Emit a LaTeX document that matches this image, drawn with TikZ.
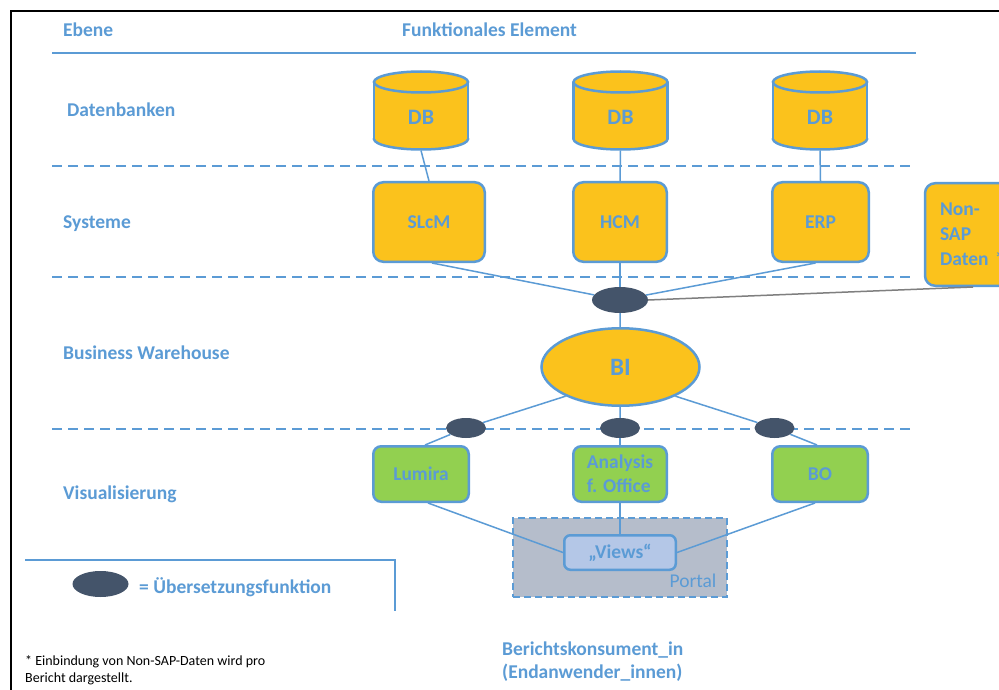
\documentclass[tikz,border=0pt]{standalone}
\usepackage{fontspec}
\setmainfont{Carlito}
\usetikzlibrary{shapes.geometric}
\definecolor{blueA}{HTML}{5B9BD5}
\definecolor{goldA}{HTML}{FBC21C}
\definecolor{greenA}{HTML}{92D050}
\definecolor{darkA}{HTML}{44546A}
\definecolor{portalA}{HTML}{B5BDCB}
\definecolor{viewsA}{HTML}{B4C7E7}
\definecolor{grayA}{HTML}{7F7F7F}
\tikzset{
  bigfont/.style={font=\bfseries\fontsize{19.5}{24}\selectfont},
  lbl/.style={bigfont, text=blueA, anchor=base west, inner sep=0pt},
  sysbox/.style={rectangle, draw=blueA, line width=2.5pt, fill=goldA, rounded corners=10pt,
     text=blueA, bigfont, minimum height=79.5pt, inner sep=0pt},
  visbox/.style={rectangle, draw=blueA, line width=2.5pt, fill=greenA, rounded corners=8pt,
     text=blueA, bigfont, minimum height=55.5pt, inner sep=0pt, align=left},
  junc/.style={ellipse, fill=darkA, draw=none, inner sep=0pt},
  conn/.style={draw=blueA, line width=1.5pt},
  sepline/.style={draw=blueA, line width=2pt, dash pattern=on 10pt off 6pt},
  cylbody/.style={fill=goldA},
  cylline/.style={draw=blueA, line width=2.5pt},
}
\begin{document}
\begin{tikzpicture}[x=1pt,y=-1pt]
\useasboundingbox (0,0) rectangle (999,690);
\clip (0,0) rectangle (999,690);
\fill[white] (0,0) rectangle (999,690);

% frame
\draw[black, line width=2.5pt] (11,690) -- (11,11) -- (999,11);

% header
\node[lbl] (hEbene) at (63,36.5) {Ebene};
\node[lbl] (hFunk) at (402,36.5) {Funktionales Element};
\draw[blueA, line width=2pt] (52,53) -- (916,53);

% separators
\foreach \yy in {166,277,429} {\draw[sepline] (52,\yy) -- (916,\yy);}

% left labels
\node[lbl] (lDaten) at (67,117) {Datenbanken};
\node[lbl] (lSys) at (63,228.5) {Systeme};
\node[lbl] (lBW) at (63,359.5) {Business Warehouse};
\node[lbl] (lVis) at (63,499.5) {Visualisierung};

% cylinders
\foreach \cx/\n in {421/1,620.5/2,820/3} {
  \filldraw[fill=goldA, cylline] (\cx,139) ellipse [x radius=47, y radius=10.5];
  \fill[cylbody] (\cx-47,82) rectangle (\cx+47,139);
  \draw[cylline] (\cx-47,82) -- (\cx-47,139) (\cx+47,82) -- (\cx+47,139);
  \filldraw[fill=goldA, cylline] (\cx,82) ellipse [x radius=47, y radius=10.5];
  \node[text=blueA, font=\bfseries\fontsize{22}{26}\selectfont, inner sep=0pt] (db\n) at (\cx,117) {DB};
  \coordinate (db\n b) at (\cx,150.5);
}

% systems
\node[sysbox, minimum width=111.5pt] (slcm) at (429,222) {SLcM};
\node[sysbox, minimum width=93.5pt] (hcm) at (620,222) {HCM};
\node[sysbox, minimum width=96.5pt] (erp) at (820.5,222) {ERP};
\node[sysbox, minimum height=102.5pt, text width=66pt, inner xsep=15pt, align=left,
      font=\bfseries\fontsize{19.5}{25}\selectfont] (nonsap) at (973,234.5) {Non-\\SAP\\Daten *};

% junctions
\node[junc, minimum width=56pt, minimum height=26pt] (jtop) at (620,300) {};
\node[junc, minimum width=40pt, minimum height=20pt] (jl) at (466,428) {};
\node[junc, minimum width=40pt, minimum height=20pt] (jm) at (620,428) {};
\node[junc, minimum width=40pt, minimum height=20pt] (jr) at (774.5,428) {};

% BI
\node[ellipse, draw=blueA, line width=2.5pt, fill=goldA, minimum width=158pt, minimum height=77.5pt,
      text=blueA, font=\bfseries\fontsize{25}{30}\selectfont, inner sep=0pt] (bi) at (620.5,367) {BI};

% visualisation boxes
\node[visbox, minimum width=95.5pt] (lumira) at (421,474) {Lumira};
\node[visbox, minimum width=93.5pt] (analysis) at (620,474) {Analysis\\f. Office};
\node[visbox, minimum width=95.5pt] (bo) at (820,474) {BO};

% portal
\node[rectangle, draw=blueA, line width=2pt, dash pattern=on 7pt off 4pt, fill=portalA,
      minimum width=214pt, minimum height=79pt, inner sep=0pt] (portal) at (620,557.5) {};
\node[text=blueA, font=\fontsize{19.5}{24}\selectfont, inner sep=0pt] (portallbl) at (693,581) {Portal};
\node[rectangle, draw=blueA, line width=2.5pt, fill=viewsA, rounded corners=6pt,
      minimum width=111.5pt, minimum height=34.5pt, inner sep=0pt, text=blueA, bigfont] (views) at (620,552.5) {„Views“};

% connectors
\draw[conn] (db1b) -- (slcm.north);
\draw[conn] (db2b) -- (hcm.north);
\draw[conn] (db3b) -- (erp.north);
\draw[conn] ([xshift=3pt]slcm.south) -- (jtop);
\draw[conn] (hcm.south) -- (jtop);
\draw[conn] ([xshift=-5pt]erp.south) -- (jtop);
\draw[draw=grayA, line width=1.5pt] (jtop.east) -- (nonsap.south);
\draw[conn] (jtop) -- (bi);
\draw[conn] (bi.208) -- (jl);
\draw[conn] (bi) -- (jm);
\draw[conn] (bi.-28) -- (jr);
\draw[conn] (jl) -- ([xshift=4pt]lumira.north);
\draw[conn] (jm) -- (analysis.north);
\draw[conn] (jr) -- ([xshift=-3pt]bo.north);
\draw[conn] ([xshift=7pt]lumira.south) -- (views.west);
\draw[conn] (analysis.south) -- (views.north);
\draw[conn] ([xshift=-5pt]bo.south) -- (views.east);

% legend
\draw[blueA, line width=2pt] (25,560) -- (395,560) -- (395,611);
\node[junc, minimum width=56pt, minimum height=26pt] (jleg) at (100.5,584) {};
\node[lbl] (legtext) at (139,593.5) {= Übersetzungsfunktion};

% footnote
\node[anchor=base west, inner sep=0pt, align=left, font=\fontsize{14}{17.5}\selectfont] (foot) at (25,682.5) {* Einbindung von Non-SAP-Daten wird pro\\Bericht dargestellt.};

% consumer
\node[anchor=base west, inner sep=0pt, align=left, text=blueA, font=\bfseries\fontsize{19.5}{23.5}\selectfont] (consumer) at (502,678.5) {Berichtskonsument\_in\\(Endanwender\_innen)};
\end{tikzpicture}
\end{document}
